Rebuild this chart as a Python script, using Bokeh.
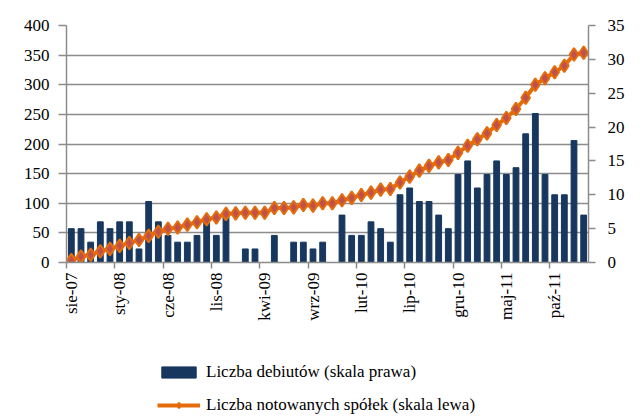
import math
from bokeh.plotting import figure
from bokeh.layouts import column
from bokeh.models import Range1d, LinearAxis, FixedTicker, SingleIntervalTicker, Legend, LegendItem
from bokeh.embed import file_html
from bokeh.resources import INLINE

months = [
    "sie-07", "wrz-07", "paź-07", "lis-07", "gru-07",
    "sty-08", "lut-08", "mar-08", "kwi-08", "maj-08", "cze-08", "lip-08", "sie-08", "wrz-08", "paź-08", "lis-08", "gru-08",
    "sty-09", "lut-09", "mar-09", "kwi-09", "maj-09", "cze-09", "lip-09", "sie-09", "wrz-09", "paź-09", "lis-09", "gru-09",
    "sty-10", "lut-10", "mar-10", "kwi-10", "maj-10", "cze-10", "lip-10", "sie-10", "wrz-10", "paź-10", "lis-10", "gru-10",
    "sty-11", "lut-11", "mar-11", "kwi-11", "maj-11", "cze-11", "lip-11", "sie-11", "wrz-11", "paź-11", "lis-11", "gru-11",
    "sty-12",
]

# Liczba debiutów (right axis)
debuts = [5, 5, 3, 6, 5,
          6, 6, 2, 9, 6, 4, 3, 3, 4, 6, 4, 7,
          0, 2, 2, 0, 4, 0, 3, 3, 2, 3, 0, 7,
          4, 4, 6, 5, 3, 10, 11, 9, 9, 7, 5, 13,
          15, 11, 13, 15, 13, 14, 19, 22, 13, 10, 10, 18,
          7]

# Liczba notowanych spółek (left axis)
listed = [4, 10, 13, 19, 23,
          28, 33, 38, 45, 52, 57, 59, 64, 68, 73, 76, 82,
          83, 84, 84, 84, 92, 92, 93, 97, 96, 100, 100, 105,
          109, 114, 118, 123, 124, 135, 145, 155, 163, 169, 173, 185,
          197, 208, 218, 232, 244, 259, 278, 300, 311, 321, 332, 351,
          354]

tick_labels = ["sie-07", "sty-08", "cze-08", "lis-08", "kwi-09", "wrz-09",
               "lut-10", "lip-10", "gru-10", "maj-11", "paź-11"]

series_names = ["Liczba debiutów (skala prawa)", "Liczba notowanych spółek (skala lewa)"]

x = list(range(len(months)))

FONT = "Liberation Serif"
GRAY = "#8c8c8c"
BAR = "#17375E"
ORANGE = "#E46C0A"
MARK = "#C0504D"

p = figure(frame_width=522, frame_height=237,
           x_range=Range1d(-0.5, len(months) - 0.5), y_range=Range1d(0, 400),
           output_backend="svg", toolbar_location=None,
           min_border_left=66, min_border_right=52, min_border_top=25, min_border_bottom=60)
p.outline_line_color = None
p.background_fill_color = "white"
p.border_fill_color = "white"

p.extra_y_ranges = {"right": Range1d(0, 35)}

bar_style = dict(width=0.6, color=BAR)
line_style = dict(line_color=ORANGE, line_width=4)
mark_style = dict(marker="diamond", size=13, fill_color=MARK, line_color=ORANGE, line_width=2)

p.vbar(x=x, top=debuts, y_range_name="right", **bar_style)
p.line(x, listed, **line_style)
p.scatter(x, listed, **mark_style)

# grid
p.xgrid.grid_line_color = None
p.ygrid.grid_line_color = GRAY
p.ygrid.grid_line_width = 1.5
p.ygrid.ticker = SingleIntervalTicker(interval=50)

# left axis
ya = p.yaxis[0]
ya.ticker = SingleIntervalTicker(interval=50)
ya.axis_line_color = GRAY
ya.axis_line_width = 1.5
ya.major_tick_line_color = GRAY
ya.major_tick_line_width = 1.5
ya.major_tick_out = 8
ya.major_tick_in = 0
ya.minor_tick_line_color = None
ya.major_label_standoff = 9
ya.major_label_text_font = FONT
ya.major_label_text_font_size = "17px"
ya.major_label_text_color = "black"

# right axis
ra = LinearAxis(y_range_name="right", ticker=SingleIntervalTicker(interval=5))
ra.axis_line_color = GRAY
ra.axis_line_width = 1.5
ra.major_tick_line_color = GRAY
ra.major_tick_line_width = 1.5
ra.major_tick_out = 7
ra.major_tick_in = 0
ra.minor_tick_line_color = None
ra.major_label_standoff = 12
ra.major_label_text_font = FONT
ra.major_label_text_font_size = "17px"
ra.major_label_text_color = "black"
p.add_layout(ra, "right")

# x axis
major = [months.index(t) for t in tick_labels]
xa = p.xaxis[0]
xa.ticker = FixedTicker(ticks=major, minor_ticks=[m - 0.5 for m in major])
xa.major_label_overrides = {m: months[m] for m in major}
xa.major_label_orientation = math.pi / 2
xa.axis_line_color = GRAY
xa.axis_line_width = 1.5
xa.major_tick_line_color = None
xa.major_tick_out = 6
xa.major_tick_in = 0
xa.minor_tick_line_color = GRAY
xa.minor_tick_line_width = 1.5
xa.minor_tick_out = 6
xa.minor_tick_in = 0
xa.major_label_standoff = 4
xa.major_label_text_font = FONT
xa.major_label_text_font_size = "17px"
xa.major_label_text_color = "black"

# legend strip (key only, drawn with the same styles; NaN keeps the keys off the plot)
nan = float("nan")
p2 = figure(width=640, height=94, x_range=Range1d(0, 1), y_range=Range1d(0, 1),
            output_backend="svg", toolbar_location=None,
            min_border_left=0, min_border_right=0, min_border_top=0, min_border_bottom=0)
p2.axis.visible = False
p2.grid.grid_line_color = None
p2.outline_line_color = None
k_bar = p2.vbar(x=[nan], top=[nan], **bar_style)
k_line = p2.line([nan], [nan], **line_style)
k_mark = p2.scatter([nan], [nan], **mark_style)

legend = Legend(items=[
    LegendItem(label=series_names[0], renderers=[k_bar]),
    LegendItem(label=series_names[1], renderers=[k_line, k_mark]),
], location=(91, 2))
legend.border_line_color = None
legend.background_fill_alpha = 0
legend.padding = 0
legend.margin = 0
legend.spacing = 13
legend.glyph_width = 43
legend.glyph_height = 14
legend.label_height = 20
legend.label_standoff = 6
legend.label_text_font = FONT
legend.label_text_font_size = "17px"
legend.label_text_color = "black"
legend.label_text_baseline = "middle"
p2.add_layout(legend, "center")

open("out.html", "w").write(file_html(column(p, p2, spacing=0), INLINE))
